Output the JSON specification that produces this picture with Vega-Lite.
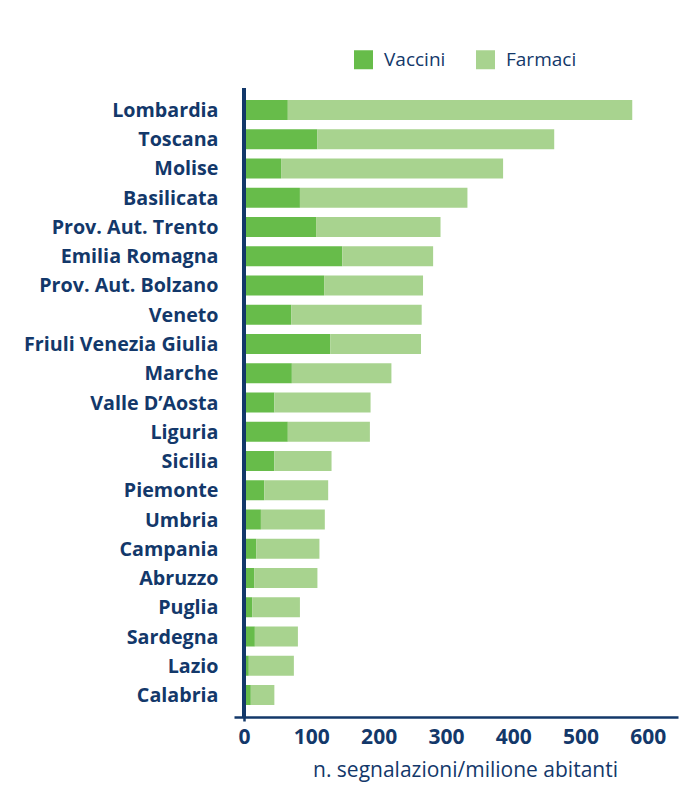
{
  "$schema": "https://vega.github.io/schema/vega-lite/v6.json",
  "width": 444,
  "height": 629,
  "autosize": {"type": "none"},
  "padding": {"left": 234, "top": 88, "right": 7, "bottom": 90},
  "background": "white",
  "config": {
    "view": {"stroke": null},
    "font": "Open Sans"
  },
  "data": {
    "values": [
      {"regione": "Lombardia", "tipo": "Vaccini", "valore": 65},
      {"regione": "Lombardia", "tipo": "Farmaci", "valore": 512},
      {"regione": "Toscana", "tipo": "Vaccini", "valore": 109},
      {"regione": "Toscana", "tipo": "Farmaci", "valore": 352},
      {"regione": "Molise", "tipo": "Vaccini", "valore": 55},
      {"regione": "Molise", "tipo": "Farmaci", "valore": 330},
      {"regione": "Basilicata", "tipo": "Vaccini", "valore": 83},
      {"regione": "Basilicata", "tipo": "Farmaci", "valore": 249},
      {"regione": "Prov. Aut. Trento", "tipo": "Vaccini", "valore": 107},
      {"regione": "Prov. Aut. Trento", "tipo": "Farmaci", "valore": 185},
      {"regione": "Emilia Romagna", "tipo": "Vaccini", "valore": 146},
      {"regione": "Emilia Romagna", "tipo": "Farmaci", "valore": 135},
      {"regione": "Prov. Aut. Bolzano", "tipo": "Vaccini", "valore": 119},
      {"regione": "Prov. Aut. Bolzano", "tipo": "Farmaci", "valore": 147},
      {"regione": "Veneto", "tipo": "Vaccini", "valore": 70},
      {"regione": "Veneto", "tipo": "Farmaci", "valore": 194},
      {"regione": "Friuli Venezia Giulia", "tipo": "Vaccini", "valore": 128},
      {"regione": "Friuli Venezia Giulia", "tipo": "Farmaci", "valore": 135},
      {"regione": "Marche", "tipo": "Vaccini", "valore": 71},
      {"regione": "Marche", "tipo": "Farmaci", "valore": 148},
      {"regione": "Valle D’Aosta", "tipo": "Vaccini", "valore": 45},
      {"regione": "Valle D’Aosta", "tipo": "Farmaci", "valore": 143},
      {"regione": "Liguria", "tipo": "Vaccini", "valore": 65},
      {"regione": "Liguria", "tipo": "Farmaci", "valore": 122},
      {"regione": "Sicilia", "tipo": "Vaccini", "valore": 45},
      {"regione": "Sicilia", "tipo": "Farmaci", "valore": 85},
      {"regione": "Piemonte", "tipo": "Vaccini", "valore": 30},
      {"regione": "Piemonte", "tipo": "Farmaci", "valore": 95},
      {"regione": "Umbria", "tipo": "Vaccini", "valore": 25},
      {"regione": "Umbria", "tipo": "Farmaci", "valore": 95},
      {"regione": "Campania", "tipo": "Vaccini", "valore": 18},
      {"regione": "Campania", "tipo": "Farmaci", "valore": 94},
      {"regione": "Abruzzo", "tipo": "Vaccini", "valore": 15},
      {"regione": "Abruzzo", "tipo": "Farmaci", "valore": 94},
      {"regione": "Puglia", "tipo": "Vaccini", "valore": 12},
      {"regione": "Puglia", "tipo": "Farmaci", "valore": 71},
      {"regione": "Sardegna", "tipo": "Vaccini", "valore": 16},
      {"regione": "Sardegna", "tipo": "Farmaci", "valore": 64},
      {"regione": "Lazio", "tipo": "Vaccini", "valore": 7},
      {"regione": "Lazio", "tipo": "Farmaci", "valore": 67},
      {"regione": "Calabria", "tipo": "Vaccini", "valore": 10},
      {"regione": "Calabria", "tipo": "Farmaci", "valore": 35}
    ]
  },
  "layer": [
    {
      "mark": {"type": "bar"},
      "encoding": {
        "y": {
          "field": "regione",
          "type": "nominal",
          "sort": ["Lombardia", "Toscana", "Molise", "Basilicata", "Prov. Aut. Trento", "Emilia Romagna", "Prov. Aut. Bolzano", "Veneto", "Friuli Venezia Giulia", "Marche", "Valle D’Aosta", "Liguria", "Sicilia", "Piemonte", "Umbria", "Campania", "Abruzzo", "Puglia", "Sardegna", "Lazio", "Calabria"],
          "scale": {"paddingInner": 0.316, "paddingOuter": 0.41},
          "axis": {
            "title": null,
            "domain": false,
            "ticks": false,
            "labelPadding": 16,
            "labelFont": "Open Sans",
            "labelFontWeight": "bold",
            "labelFontSize": 19.7,
            "labelColor": "#13386a",
            "labelLimit": 300,
            "labelOffset": 1
          }
        },
        "x": {
          "field": "valore",
          "type": "quantitative",
          "stack": "zero",
          "scale": {"domain": [-15, 645], "zero": false, "nice": false},
          "axis": {
            "title": "n. segnalazioni/milione abitanti",
            "values": [0, 100, 200, 300, 400, 500, 600],
            "grid": false,
            "domainColor": "#13386a",
            "domainWidth": 2.5,
            "tickSize": 4,
            "tickWidth": 2.5,
            "tickColor": {"condition": {"test": "datum.value == 0", "value": "#13386a"}, "value": "transparent"},
            "labelPadding": 5,
            "labelFont": "Open Sans",
            "labelFontWeight": "bold",
            "labelFontSize": 21,
            "labelColor": "#13386a",
            "titleFont": "Open Sans",
            "titleFontWeight": "normal",
            "titleFontSize": 21,
            "titleColor": "#13386a",
            "titlePadding": 12,
            "titleX": 231,
            "titleAlign": "center"
          }
        },
        "color": {
          "field": "tipo",
          "type": "nominal",
          "scale": {"domain": ["Vaccini", "Farmaci"], "range": ["#67bc4a", "#a8d38f"]},
          "legend": {
            "title": null,
            "orient": "none",
            "direction": "horizontal",
            "legendX": 120,
            "legendY": -38,
            "padding": 0,
            "symbolType": "square",
            "symbolSize": 361,
            "symbolStrokeWidth": 0,
            "symbolOpacity": 1,
            "labelFont": "Open Sans",
            "labelFontSize": 19,
            "labelColor": "#13386a",
            "labelOffset": 11,
            "columnPadding": 30
          }
        },
        "order": {"field": "tipo", "sort": "descending"}
      }
    },
    {
      "mark": {"type": "rule", "color": "#13386a", "strokeWidth": 3},
      "encoding": {"x": {"datum": 0}}
    }
  ]
}
